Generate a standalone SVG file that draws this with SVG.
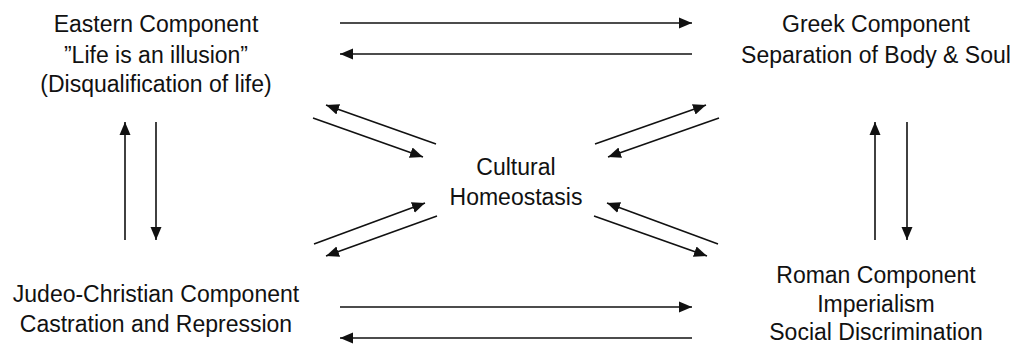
<svg xmlns="http://www.w3.org/2000/svg" width="1014" height="351" viewBox="0 0 1014 351">
<style>
text{font-family:"Liberation Sans",Arial,sans-serif;font-size:23px;fill:#111;text-anchor:middle}
.c line{stroke:#111;stroke-width:1.6;marker-end:url(#ah)}
</style>
<defs>
<marker id="ah" markerUnits="userSpaceOnUse" markerWidth="14" markerHeight="12" refX="13" refY="5.5" orient="auto" viewBox="0 0 14 11">
<path d="M0,0 L13,5.5 L0,11 z" fill="#111"/>
</marker>
</defs>
<rect width="1014" height="351" fill="#fff"/>
<g id="eastern"><text x="156" y="32">Eastern Component</text><text x="156" y="63">”Life is an illusion”</text><text x="156" y="92">(Disqualification of life)</text></g>
<g id="greek"><text x="876" y="32">Greek Component</text><text x="876" y="63">Separation of Body &amp; Soul</text></g>
<g id="judeo"><text x="156" y="302">Judeo-Christian Component</text><text x="156" y="332">Castration and Repression</text></g>
<g id="roman"><text x="876" y="283">Roman Component</text><text x="876" y="312">Imperialism</text><text x="876" y="340">Social Discrimination</text></g>
<g id="center"><text x="516" y="175">Cultural</text><text x="516" y="205">Homeostasis</text></g>
<g class="c" id="connectors">
<line x1="340" y1="23" x2="692" y2="23"/>
<line x1="692" y1="54" x2="340" y2="54"/>
<line x1="340" y1="307" x2="692" y2="307"/>
<line x1="692" y1="338" x2="340" y2="338"/>
<line x1="125" y1="240" x2="125" y2="122"/>
<line x1="156" y1="122" x2="156" y2="240"/>
<line x1="875" y1="240" x2="875" y2="122"/>
<line x1="907" y1="122" x2="907" y2="240"/>
<line x1="436" y1="144" x2="326" y2="105"/>
<line x1="313" y1="118" x2="423" y2="157"/>
<line x1="595" y1="144" x2="706" y2="105"/>
<line x1="719" y1="118" x2="608" y2="157"/>
<line x1="314" y1="244" x2="425" y2="203"/>
<line x1="437" y1="216" x2="326" y2="256"/>
<line x1="718" y1="244" x2="607" y2="203"/>
<line x1="594" y1="216" x2="707" y2="256"/>
</g>
</svg>
